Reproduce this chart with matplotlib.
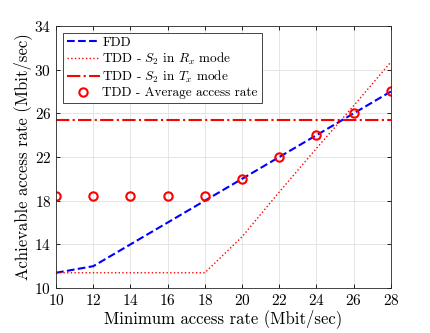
import matplotlib
matplotlib.use('Agg')
import matplotlib.pyplot as plt

# data
x = [10, 12, 14, 16, 18, 20, 22, 24, 26, 28]
fdd = [11.4, 12.0, 14.0, 16.0, 18.0, 20.0, 22.0, 24.0, 26.0, 28.0]
tdd_rx = [11.4, 11.4, 11.4, 11.4, 11.4, 14.7, 18.8, 22.8, 26.7, 30.7]
tdd_tx = [25.35] * len(x)
tdd_avg = [18.4, 18.4, 18.4, 18.4, 18.4, 20.0, 22.0, 24.0, 26.0, 28.0]

plt.rcParams['font.family'] = 'serif'
plt.rcParams['font.serif'] = ['cmr10', 'DejaVu Serif']
plt.rcParams['mathtext.fontset'] = 'cm'
plt.rcParams['axes.formatter.use_mathtext'] = True

fig = plt.figure(figsize=(4.31, 3.33), dpi=100)
ax = fig.add_axes([0.130, 0.135, 0.777, 0.787])

ax.plot(x, fdd, '--', color='#0000ff', linewidth=1.5, label='FDD')
ax.plot(x, tdd_rx, ':', color='#ff0000', linewidth=1.0, label=r'TDD - $S_2$ in $R_x$ mode')
ax.plot(x, tdd_tx, '-.', color='#ff0000', linewidth=1.5, label=r'TDD - $S_2$ in $T_x$ mode')
ax.plot(x, tdd_avg, 'o', color='#ff0000', markerfacecolor='none', markersize=6,
        markeredgewidth=1.5, linestyle='none', label='TDD - Average access rate')

ax.set_xlim(10, 28)
ax.set_ylim(10, 34)
ax.set_xticks(range(10, 29, 2))
ax.set_yticks(range(10, 35, 4))
ax.tick_params(direction='in', top=True, right=True, labelsize=11, length=3, width=0.6)
ax.grid(True, color='#e0e0e0', linewidth=0.6)
ax.set_axisbelow(True)
for s in ax.spines.values():
    s.set_linewidth(0.6)
    s.set_color('#262626')

ax.set_xlabel('Minimum access rate (Mbit/sec)', fontsize=12, labelpad=1)
ax.set_ylabel('Achievable access rate (Mbit/sec)', fontsize=12, labelpad=2)

leg = ax.legend(loc='upper left', fontsize=9.5, handlelength=2.5, handletextpad=0.2,
                borderpad=0.3, labelspacing=0.15, fancybox=False, edgecolor='#262626',
                framealpha=1, borderaxespad=0.5)
leg.get_frame().set_linewidth(0.6)

fig.savefig('out.png', dpi=100)
